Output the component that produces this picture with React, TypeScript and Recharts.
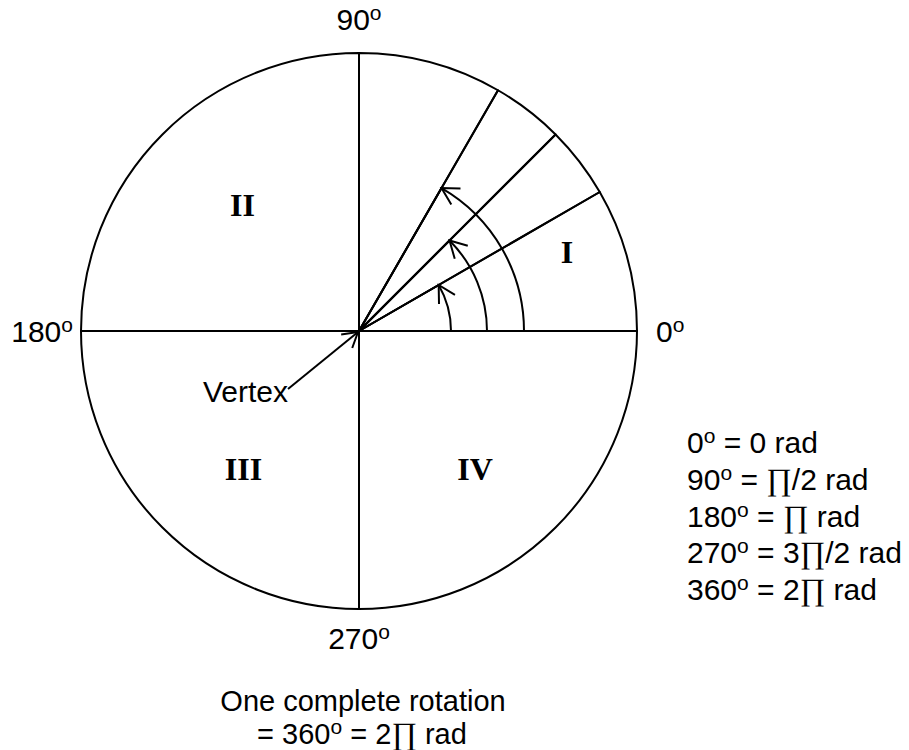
import React from 'react';
import { PieChart, Pie, Cell, Customized } from 'recharts';

// Boundaries (degrees, counter-clockwise from 0º) of the rays that split the circle
const rayAngles = [0, 30, 45, 60, 90, 180, 270, 360];
// Angles swept by the three arrowed arcs
const arcEndAngles = [30, 45, 60];
// Axis angle labels
const axisLabels = ['0', '90', '180', '270'];
// Quadrant numerals
const quadrantLabels = ['I', 'II', 'III', 'IV'];
// Degree / radian conversion table
const convDegrees = ['0', '90', '180', '270', '360'];
const convRadians = ['0', '∏/2', '∏', '3∏/2', '2∏'];
// Caption
const captionLines = ['One complete rotation', '= 360', '= 2∏ rad'];

const sectorData = rayAngles.slice(1).map((a, i) => ({ name: `sector${i}`, value: a - rayAngles[i] }));

const CX = 359;
const CY = 331;
const R = 278;
const ARC_RADII = [92, 128, 165];

const SANS = 'Liberation Sans, Arial, Helvetica, sans-serif';
const SERIF = 'Liberation Serif, Times New Roman, DejaVu Serif, serif';
const FS = 30;
const SUP = 21;
const SUP_DY = 10;

function arrowPath(tx: number, ty: number, bx: number, by: number, len: number, halfDeg: number) {
  const h = (halfDeg * Math.PI) / 180;
  const rot = (x: number, y: number, a: number) => [x * Math.cos(a) - y * Math.sin(a), x * Math.sin(a) + y * Math.cos(a)];
  const [ax, ay] = rot(bx, by, h);
  const [cx2, cy2] = rot(bx, by, -h);
  return `M${tx + ax * len},${ty + ay * len} L${tx},${ty} L${tx + cx2 * len},${ty + cy2 * len}`;
}

const makeArcHead = (idx: number) => (props: any) => {
  const cx = typeof props.cx === 'number' ? props.cx : CX;
  const cy = typeof props.cy === 'number' ? props.cy : CY;
  const r = typeof props.outerRadius === 'number' ? props.outerRadius : ARC_RADII[idx];
  const endA = typeof props.endAngle === 'number' ? props.endAngle : arcEndAngles[idx];
  const rad = (endA * Math.PI) / 180;
  const tx = cx + r * Math.cos(rad);
  const ty = cy - r * Math.sin(rad);
  // backward direction along the arc (screen coords)
  const bx = Math.sin(rad);
  const by = Math.cos(rad);
  return (
    <path
      key={`head${idx}`}
      d={arrowPath(tx, ty, bx, by, 19, 29)}
      fill="none"
      stroke="#000"
      strokeWidth={2}
    />
  );
};

function degText(num: string) {
  return [
    <tspan key="n">{num}</tspan>,
    <tspan key="o" fontSize={SUP} dy={-SUP_DY}>o</tspan>,
  ];
}

function radParts(s: string, keyBase: string) {
  const parts = s.split('∏');
  const out: React.ReactNode[] = [];
  parts.forEach((p, i) => {
    if (i > 0) {
      out.push(
        <tspan key={`${keyBase}pi${i}`} fontFamily={SERIF} fontSize={31}>
          ∏
        </tspan>
      );
    }
    if (p) out.push(<tspan key={`${keyBase}t${i}`}>{p}</tspan>);
  });
  return out;
}

function Annotations() {
  const text = { fontFamily: SANS, fontSize: FS, fill: '#000' } as const;
  const roman = { fontFamily: SERIF, fontSize: 32, fontWeight: 700, fill: '#000' } as const;

  // vertex pointer
  const vStartX = CX - 71;
  const vStartY = CY + 58;
  const vTipX = CX - 1;
  const vTipY = CY + 1;
  const vl = Math.hypot(vTipX - vStartX, vTipY - vStartY);
  const vbx = (vStartX - vTipX) / vl;
  const vby = (vStartY - vTipY) / vl;

  return (
    <g>
      {/* axis labels */}
      <text {...text} x={CX} y={30} textAnchor="middle">
        {degText(axisLabels[1])}
      </text>
      <text {...text} x={73} y={342} textAnchor="end">
        {degText(axisLabels[2])}
      </text>
      <text {...text} x={656} y={342} textAnchor="start">
        {degText(axisLabels[0])}
      </text>
      <text {...text} x={CX} y={649} textAnchor="middle">
        {degText(axisLabels[3])}
      </text>

      {/* quadrant numerals */}
      <text {...roman} x={567} y={263} textAnchor="middle">{quadrantLabels[0]}</text>
      <text {...roman} x={242.5} y={216} textAnchor="middle">{quadrantLabels[1]}</text>
      <text {...roman} x={243.5} y={480} textAnchor="middle">{quadrantLabels[2]}</text>
      <text {...roman} x={475} y={480} textAnchor="middle">{quadrantLabels[3]}</text>

      {/* vertex */}
      <text {...text} x={288} y={402} textAnchor="end">Vertex</text>
      <line x1={vStartX} y1={vStartY} x2={vTipX} y2={vTipY} stroke="#000" strokeWidth={2} />
      <path d={arrowPath(vTipX, vTipY, vbx, vby, 17, 31)} fill="none" stroke="#000" strokeWidth={2} />

      {/* conversion table */}
      {convDegrees.map((d, i) => (
        <text key={`conv${i}`} {...text} x={687} y={453 + i * 36.8} textAnchor="start">
          <tspan>{d}</tspan>
          <tspan fontSize={SUP} dy={-SUP_DY}>o</tspan>
          <tspan dy={SUP_DY}>{' = '}</tspan>
          {radParts(convRadians[i], `c${i}`)}
          <tspan>{' rad'}</tspan>
        </text>
      ))}

      {/* caption */}
      <text {...text} fontSize={29} textAnchor="middle">
        <tspan x={363} y={711}>{captionLines[0]}</tspan>
        <tspan x={362} y={744}>{captionLines[1]}</tspan>
        <tspan fontSize={SUP} dy={-SUP_DY}>o</tspan>
        <tspan dy={SUP_DY}>{' '}</tspan>
        {radParts(captionLines[2], 'cap')}
      </text>
    </g>
  );
}

export default function App() {
  return (
    <div style={{ position: 'absolute', left: 0, top: 0, width: 909, height: 750, background: '#fff' }}>
      <PieChart width={909} height={750} margin={{ top: 0, right: 0, bottom: 0, left: 0 }}>
        <Pie
          data={sectorData}
          dataKey="value"
          cx={CX}
          cy={CY}
          innerRadius={0}
          outerRadius={R}
          startAngle={0}
          endAngle={360}
          fill="none"
          stroke="#000"
          strokeWidth={2}
          isAnimationActive={false}
          labelLine={false}
          label={false}
        >
          {sectorData.map((s) => (
            <Cell key={s.name} fill="none" stroke="#000" strokeWidth={2} strokeLinejoin="round" />
          ))}
        </Pie>
        {arcEndAngles.map((a, i) => (
          <Pie
            key={`arc${i}`}
            data={[{ name: `arc${i}`, value: a }]}
            dataKey="value"
            cx={CX}
            cy={CY}
            innerRadius={0}
            outerRadius={ARC_RADII[i]}
            startAngle={0}
            endAngle={a}
            fill="none"
            stroke="#000"
            strokeWidth={2}
            isAnimationActive={false}
            labelLine={false}
            label={makeArcHead(i)}
          >
            <Cell fill="none" stroke="#000" strokeWidth={2} strokeLinejoin="round" />
          </Pie>
        ))}
        <Customized component={Annotations} />
      </PieChart>
    </div>
  );
}
